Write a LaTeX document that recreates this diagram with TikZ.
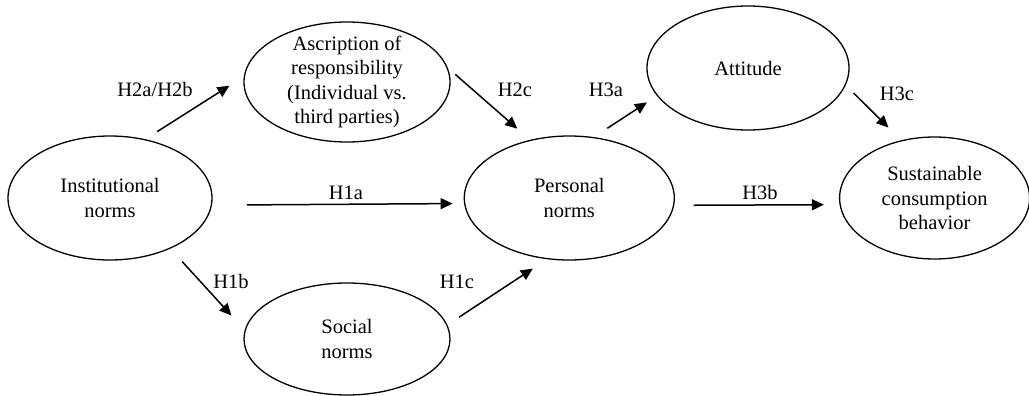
\documentclass[tikz,border=0pt]{standalone}
\usepackage{fontspec}
\setmainfont{Liberation Serif}
\usetikzlibrary{shapes.geometric}
\usetikzlibrary{positioning}
\usetikzlibrary{arrows.meta}
\tikzset{
  construct/.style={draw, ellipse, line width=1.3pt, align=center, inner sep=1pt},
  hyp/.style={anchor=base},
  path/.style={->, line width=1.5pt}
}

\begin{document}
\begin{tikzpicture}[x=1pt, y=1pt, font=\fontsize{20.5}{24.5}\selectfont, >={Triangle[length=12pt, width=11pt]}]
  \useasboundingbox (0,0) rectangle (1029,-396);

  \node[construct, minimum width=204pt, minimum height=124pt] (inst) at (110,-198) {Institutional\\norms};
  \node[construct, minimum width=210pt, minimum height=124pt, right=251pt of inst] (pers) {Personal\\norms};
  \node[construct, minimum width=190pt, minimum height=122pt, right=164pt of pers] (sust) {Sustainable\\consumption\\behavior};

  \node[construct, minimum width=206pt, minimum height=120pt, inner ysep=-8pt] (asc) at (347,-82) {Ascription of\\responsibility\\(Individual vs.\\third parties)};
  \node[construct, minimum width=206pt, minimum height=112pt] (soc) at (347,-339) {Social\\norms};
  \node[construct, minimum width=202pt, minimum height=124pt] (att) at (748,-68) {Attitude};

  % hypothesised paths
  \draw [path, shorten <=14pt, shorten >=17pt] (inst.59) -- (asc.177);
  \draw [path, shorten <=10pt, shorten >=17pt] (asc.8) -- (pers.124);
  \draw [path, shorten <=35pt, shorten >=11.5pt] (inst.356) -- (pers.183);
  \draw [path, shorten <=17.5pt, shorten >=19.6pt] (inst.320.3) -- (soc.175.2);
  \draw [path, shorten <=14pt, shorten >=17pt] (soc.8.8) -- (pers.250.6);
  \draw [path, shorten <=16pt, shorten >=12pt] (pers.68) -- (att.197.6);
  \draw [path, shorten <=19.5pt, shorten >=15.6pt] (pers.356.7) -- (sust.184.2);
  \draw [path, shorten <=11pt, shorten >=18pt] (att.350.6) -- (sust.120.6);

  \node[hyp] (h2ab) at (155,-97) {H2a/H2b};
  \node[hyp] (h2c) at (515,-97) {H2c};
  \node[hyp] (h1a) at (346,-199) {H1a};
  \node[hyp] (h1b) at (231,-288) {H1b};
  \node[hyp] (h1c) at (457,-288) {H1c};
  \node[hyp] (h3a) at (606,-97) {H3a};
  \node[hyp] (h3b) at (760,-199) {H3b};
  \node[hyp] (h3c) at (897,-100) {H3c};

\end{tikzpicture}
\end{document}
